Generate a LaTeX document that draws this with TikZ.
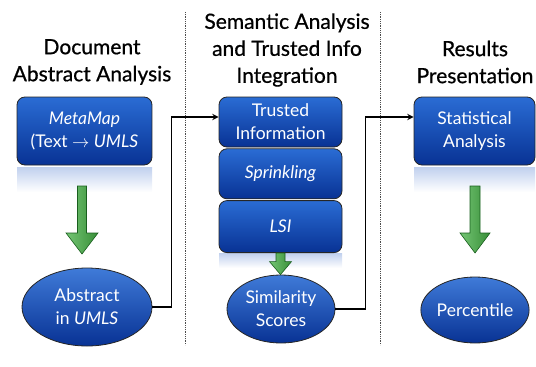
\documentclass[tikz,border=0pt]{standalone}
\usepackage{fontspec}
\setmainfont{Lato}
\newfontfamily\headfont[FakeBold=0.7]{Lato}
\usetikzlibrary{positioning,shapes.geometric,calc,arrows}

\definecolor{boxtop}{RGB}{42,108,212}
\definecolor{boxbot}{RGB}{8,50,148}
\definecolor{arrowgreen}{RGB}{70,178,70}
\definecolor{arrowdark}{RGB}{25,95,30}
\definecolor{glow}{RGB}{192,208,238}

\tikzset{
  % column headings
  heading/.style={align=center, font=\headfont\fontsize{21}{27}\selectfont},
  % blue rounded boxes
  stepbox/.style={draw=black!85, line width=0.8pt, rounded corners=8pt,
    top color=boxtop, bottom color=boxbot, text=white, align=center,
    font=\fontsize{17.5}{23}\selectfont, inner sep=0pt},
  % blue ellipses
  result/.style={ellipse, draw=black!85, line width=0.8pt,
    top color=boxtop!90!white, bottom color=boxbot, text=white, align=center,
    font=\fontsize{17.5}{23}\selectfont, inner sep=0pt},
  % faint mirror under a shape
  mirror/.style={top color=glow, bottom color=white},
  % link between the columns
  link/.style={draw, line width=1.8pt, -stealth},
  % fat green arrow
  greenarrow/.style={draw=arrowdark, line width=0.6pt,
    left color=arrowgreen!75!white, right color=arrowgreen!80!black},
  % column separator
  separator/.style={black!70, densely dotted, line width=0.8pt},
}

% fat arrow pointing down: from, to, half shaft, half head, head length
\newcommand{\fatarrow}[5]{%
  \path[greenarrow] let \p1=(#1), \p2=(#2) in
    (\x1-#3,\y1) -- (\x1+#3,\y1) -- (\x1+#3,\y2+#5) -- (\x1+#4,\y2+#5)
    -- (\x1,\y2) -- (\x1-#4,\y2+#5) -- (\x1-#3,\y2+#5) -- cycle;}

\begin{document}
\begin{tikzpicture}[x=1pt,y=-1pt]
\useasboundingbox (0,0) rectangle (536,367);

% separators
\draw[separator] (185,12) -- (185,345);
\draw[separator] (380,12) -- (380,345);

% headings
\node[heading] (head1) at (92,62) {Document\\Abstract Analysis};
\node[heading] (head2) at (287,50) {Semantic Analysis\\and Trusted Info\\Integration};
\node[heading] (head3) at (475,62) {Results\\Presentation};

% mirrors
\fill[mirror] (17,167) rectangle (152,192);
\fill[mirror] (414,167) rectangle (535,192);
\fill[mirror] (219,253) rectangle (342,268);
\fill[mirror] (24,367) arc (180:0:63 and 20) -- cycle;
\fill[mirror] (229,367) arc (180:0:52 and 20) -- cycle;
\fill[mirror] (423,367) arc (180:0:52 and 20) -- cycle;

% first column
\node[stepbox, minimum width=135pt, minimum height=68pt] (meta) at (84.5,131)
  {\itshape MetaMap\\(Text $\rightarrow$ \itshape UMLS};
\node[result, minimum width=130pt, minimum height=78pt] (abs) at (87,307)
  {Abstract\\in \itshape UMLS};

% second column
\node[stepbox, minimum width=123pt, minimum height=50pt] (trust) at (280.5,122)
  {Trusted\\Information};
\node[stepbox, minimum width=123pt, minimum height=50pt, below=1pt of trust] (sprink)
  {\itshape Sprinkling};
\node[stepbox, minimum width=123pt, minimum height=52pt, below=1pt of sprink] (lsi)
  {\itshape LSI};
\node[result, minimum width=108pt, minimum height=68pt] (sim) at (281,309)
  {Similarity\\Scores};

% third column
\node[stepbox, minimum width=121pt, minimum height=68pt] (stat) at (474.5,131)
  {Statistical\\Analysis};
\node[result, minimum width=106pt, minimum height=66pt] (perc) at (475,310)
  {Percentile};

% green arrows
\coordinate (a1s) at (82,186);
\coordinate (a1e) at (82,254);
\coordinate (a3s) at (475,186);
\coordinate (a3e) at (475,253);
\fatarrow{a1s}{a1e}{4.5pt}{16pt}{21pt}
\fatarrow{lsi.south}{sim.north}{4.5pt}{11pt}{13pt}
\fatarrow{a3s}{a3e}{5pt}{15pt}{20pt}

% links
\draw[link] (abs.east) -- ++(19,0) |- ($(trust.west)+(0,-5)$);
\draw[link] (sim.east) -- ++(30,0) |- ($(stat.west)+(0,-14)$);
\end{tikzpicture}
\end{document}
